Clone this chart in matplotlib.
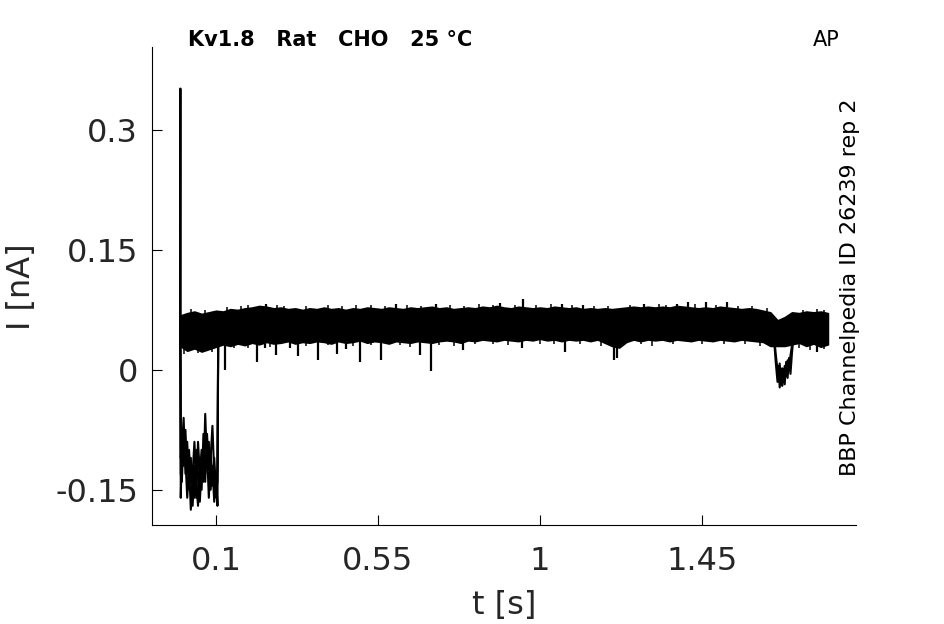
import numpy as np
import matplotlib
matplotlib.use('Agg')
import matplotlib.pyplot as plt

# envelope of the overlaid sweeps, sampled every 0.02 s from 0 to 1.8 s
band_hi = [0.068, 0.071, 0.073, 0.070, 0.072, 0.074, 0.073, 0.076, 0.075, 0.077,
           0.078, 0.080, 0.079, 0.077, 0.078, 0.076, 0.077, 0.075, 0.077, 0.076,
           0.078, 0.076, 0.077, 0.075, 0.077, 0.076, 0.078, 0.077, 0.076, 0.078,
           0.077, 0.076, 0.078, 0.077, 0.078, 0.079, 0.077, 0.078, 0.076, 0.077,
           0.078, 0.077, 0.079, 0.078, 0.080, 0.078, 0.077, 0.079, 0.078, 0.077,
           0.078, 0.077, 0.079, 0.078, 0.077, 0.078, 0.076, 0.077, 0.076, 0.077,
           0.076, 0.077, 0.078, 0.079, 0.078, 0.079, 0.078, 0.079, 0.078, 0.080,
           0.079, 0.078, 0.077, 0.078, 0.077, 0.079, 0.078, 0.077, 0.076, 0.077,
           0.076, 0.074, 0.072, 0.062, 0.066, 0.072, 0.071, 0.073, 0.072, 0.073,
           0.071]
band_lo = [0.030, 0.024, 0.027, 0.023, 0.026, 0.029, 0.032, 0.030, 0.033, 0.031,
           0.034, 0.032, 0.035, 0.033, 0.034, 0.036, 0.033, 0.035, 0.034, 0.036,
           0.035, 0.033, 0.036, 0.034, 0.035, 0.037, 0.034, 0.036, 0.035, 0.033,
           0.036, 0.035, 0.034, 0.036, 0.035, 0.034, 0.036, 0.037, 0.036, 0.034,
           0.037, 0.036, 0.038, 0.037, 0.036, 0.038, 0.037, 0.036, 0.038, 0.037,
           0.039, 0.037, 0.038, 0.036, 0.038, 0.037, 0.038, 0.036, 0.038, 0.034,
           0.030, 0.028, 0.035, 0.038, 0.036, 0.038, 0.037, 0.038, 0.036, 0.038,
           0.037, 0.036, 0.038, 0.037, 0.036, 0.038, 0.037, 0.036, 0.038, 0.037,
           0.036, 0.035, 0.030, 0.030, 0.030, 0.032, 0.034, 0.030, 0.033, 0.029,
           0.032]
t_band = np.linspace(0, 1.8, len(band_hi))

# sweeps with the inward current at the start
neg_t = [0.000, 0.001, 0.002, 0.005, 0.010, 0.015, 0.020, 0.025, 0.030, 0.035,
         0.040, 0.045, 0.050, 0.055, 0.060, 0.065, 0.070, 0.075, 0.080, 0.085,
         0.090, 0.095, 0.100, 0.104, 0.106, 0.110]
neg_a = [0.050, 0.352, -0.160, -0.100, -0.060, -0.130, -0.090, -0.150, -0.110, -0.170,
         -0.120, -0.160, -0.090, -0.130, -0.100, -0.140, -0.055, -0.120, -0.090, -0.150,
         -0.120, -0.165, -0.130, -0.170, 0.030, 0.040]
neg_b = [0.045, -0.020, -0.130, -0.140, -0.080, -0.110, -0.160, -0.120, -0.175, -0.130,
         -0.090, -0.140, -0.170, -0.110, -0.150, -0.080, -0.130, -0.100, -0.160, -0.110,
         -0.070, -0.130, -0.160, -0.120, 0.035, 0.045]
neg_c = [0.050, 0.020, -0.110, -0.090, -0.120, -0.075, -0.130, -0.100, -0.140, -0.120,
         -0.160, -0.100, -0.130, -0.165, -0.120, -0.100, -0.140, -0.080, -0.125, -0.105,
         -0.145, -0.110, -0.150, -0.140, 0.040, 0.050]

# sharp deflections on top of the band
down_t = [0.125, 0.214, 0.235, 0.267, 0.305, 0.328, 0.383, 0.436, 0.460, 0.500,
          0.558, 0.667, 0.697, 0.786, 0.950, 1.070, 1.205, 1.215, 1.770]
down_i = [0.000, 0.010, 0.028, 0.019, 0.027, 0.017, 0.013, 0.020, 0.026, 0.010,
          0.012, 0.019, -0.001, 0.025, 0.027, 0.022, 0.012, 0.015, 0.022]
up_t = [0.240, 0.600, 0.710, 0.890, 0.953, 1.060, 1.120, 1.290, 1.380, 1.410,
        1.460, 1.520]
up_i = [0.083, 0.082, 0.082, 0.084, 0.089, 0.083, 0.081, 0.083, 0.082, 0.085,
        0.085, 0.085]

# small noise flickers along both edges of the band
flick_up_t = [0.03, 0.07, 0.13, 0.17, 0.19, 0.27, 0.29, 0.35, 0.41, 0.45,
              0.49, 0.53, 0.57, 0.63, 0.67, 0.75, 0.79, 0.83, 0.87, 0.93,
              0.99, 1.03, 1.09, 1.15, 1.19, 1.25, 1.33, 1.35, 1.43, 1.49,
              1.55, 1.59, 1.63, 1.73, 1.77, 1.79]
flick_up_i = [0.076, 0.075, 0.079, 0.080, 0.081, 0.081, 0.080, 0.080, 0.081, 0.080,
              0.081, 0.081, 0.080, 0.081, 0.080, 0.081, 0.080, 0.082, 0.081, 0.081,
              0.081, 0.082, 0.081, 0.080, 0.080, 0.081, 0.082, 0.081, 0.082, 0.081,
              0.080, 0.080, 0.078, 0.075, 0.076, 0.075]
flick_dn_t = [0.01, 0.05, 0.09, 0.15, 0.19, 0.25, 0.35, 0.41, 0.48, 0.53,
              0.61, 0.64, 0.72, 0.76, 0.82, 0.87, 0.91, 1.00, 1.04, 1.11,
              1.17, 1.28, 1.31, 1.37, 1.45, 1.51, 1.57, 1.61, 1.72, 1.75,
              1.79]
flick_dn_i = [0.020, 0.021, 0.022, 0.027, 0.028, 0.029, 0.030, 0.031, 0.030, 0.031,
              0.031, 0.029, 0.031, 0.030, 0.032, 0.032, 0.031, 0.033, 0.032, 0.033,
              0.030, 0.032, 0.030, 0.033, 0.032, 0.033, 0.032, 0.030, 0.028, 0.025,
              0.026]

# dip near 1.67 s
dip_t = [1.650, 1.655, 1.660, 1.663, 1.666, 1.670, 1.673, 1.676, 1.680, 1.684,
         1.688, 1.692, 1.696, 1.700, 1.704]
dip_a = [0.040, 0.010, -0.015, 0.005, -0.022, -0.005, -0.020, 0.000, -0.018, 0.010,
         -0.010, 0.015, -0.005, 0.020, 0.040]
dip_b = [0.045, 0.020, 0.000, -0.012, 0.008, -0.016, 0.002, -0.010, 0.005, -0.008,
         0.012, 0.000, 0.018, 0.030, 0.045]

yticks = [-0.15, 0, 0.15, 0.3]
ytick_labels = ['-0.15', '0', '0.15', '0.3']
xticks = [0.1, 0.55, 1, 1.45]
xtick_labels = ['0.1', '0.55', '1', '1.45']

fig = plt.figure(figsize=(9.45, 6.24), dpi=100)
ax = fig.add_axes([0.1608, 0.1587, 0.745, 0.766])

ax.fill_between(t_band, band_lo, band_hi, color='k', lw=1.2)
ax.plot(neg_t, neg_a, color='k', lw=1.5)
ax.plot(neg_t, neg_b, color='k', lw=1.5)
ax.plot(neg_t, neg_c, color='k', lw=1.5)
ax.vlines(down_t, 0.05, down_i, color='k', lw=1.6)
ax.vlines(up_t, 0.05, up_i, color='k', lw=1.6)
ax.vlines(flick_up_t, 0.05, flick_up_i, color='k', lw=1.1)
ax.vlines(flick_dn_t, 0.05, flick_dn_i, color='k', lw=1.1)
ax.plot(dip_t, dip_a, color='k', lw=1.5)
ax.plot(dip_t, dip_b, color='k', lw=1.5)

ax.set_xlim(-0.078, 1.878)
ax.set_ylim(-0.194, 0.404)
ax.set_xticks(xticks)
ax.set_xticklabels(xtick_labels)
ax.set_yticks(yticks)
ax.set_yticklabels(ytick_labels)
ax.tick_params(direction='in', length=7, labelsize=23, labelcolor='#262626', pad=10)
ax.tick_params(axis='x', pad=15)
ax.spines['top'].set_visible(False)
ax.spines['right'].set_visible(False)
ax.set_xlabel('t [s]', fontsize=23, color='#262626')
ax.set_ylabel('I [nA]', fontsize=23, color='#262626')
ax.yaxis.set_label_coords(-0.163, 0.498)
ax.xaxis.set_label_coords(0.5, -0.137)

fig.text(0.199, 0.936, 'Kv1.8   Rat   CHO   25 °C', fontsize=15, fontweight='bold',
         va='center', ha='left')
fig.text(0.874, 0.936, 'AP', fontsize=15, va='center', ha='center')
fig.text(0.899, 0.54, 'BBP Channelpedia ID 26239 rep 2', fontsize=16,
         rotation=90, va='center', ha='center')

fig.savefig('out.png', dpi=100)
